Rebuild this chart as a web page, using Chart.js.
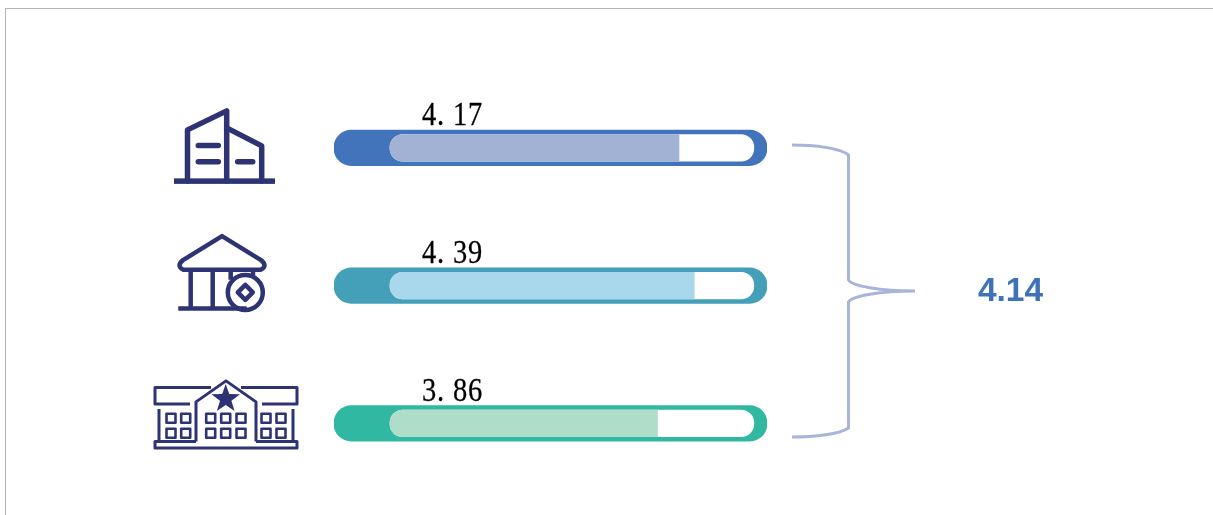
<!DOCTYPE html>
<html>
<head>
<meta charset="utf-8">
<style>
  html, body { margin: 0; height: 100%; background: #fff; overflow: hidden; }
  #frame { position: absolute; left: 5px; top: 8px; right: 0; bottom: 0; border-top: 1px solid #b4b4b4; border-left: 1px solid #b4b4b4; }
  #chart { position: absolute; left: 0; top: 0; }
</style>
</head>
<body>
<div id="frame"></div>
<canvas id="chart" width="1213" height="515"></canvas>
<script src="https://cdn.jsdelivr.net/npm/chart.js@4"></script>
<script>
// Datos
const categories = ["office", "bank", "school"];
const scores = [4.17, 4.39, 3.86];
const overallScore = 4.14;
const slotMax = 5.25;
const axisMin = -0.808;
const axisMax = 5.44;

// Colores por fila
const trackColors = ["#4174bb", "#449fb8", "#30b8a3"];
const fillColors = ["#a1b2d5", "#a9d7ec", "#aeddca"];
const iconColor = "#2e3374";

// Iconos en coordenadas locales, relativos al centro de cada fila
const iconPaths = {
  office: [
    "M-37.5,33 V-18 L1.7,-37 V33",
    "M1.7,-20 L36.7,-2 V33",
    "M-26.7,-2.5 H-6.7 M-26.7,13.8 H-6.7 M12.7,13.8 H27.7"
  ],
  bank: [
    "M-3,-49.5 L-42,-25.5 Q-49,-20 -42,-16 H36 Q43,-20 36,-25.5 Z",
    "M-34.3,-16 V22.8 M-12.3,-16 V22.8 M5.7,-16 V-6 M28,-16 V-10",
    "M-46.7,22.8 H21.7",
    "M37.8,6.8 A17.5,17.5 0 1 1 2.8,6.8 A17.5,17.5 0 1 1 37.8,6.8 Z",
    "M20.3,-0.7 L27.8,6.8 L20.3,14.3 L12.8,6.8 Z"
  ],
  school: [
    "M-35,-19.5 H-70 V-36 H-14 M37,-19.5 H72 V-36 H16",
    "M-29,18 V-21.5 L1,-42.5 L31,-21.5 V18",
    "M-66,-14.5 V18 H-70 V24.5 H72 V18 H68 V-14.5",
    "M-66,18 H-29 M31,18 H68"
  ]
};
const iconLineWidths = { office: 5.5, bank: 4.5, school: 3 };
const schoolWindowX = [-54, -39.3, -14.3, 0.7, 16, 41, 56];
const schoolWindowY = [-5.2, 9.8];

function drawStar(ctx, cx, cy, r) {
  ctx.beginPath();
  for (let i = 0; i < 10; i++) {
    const rad = i % 2 === 0 ? r : r * 0.4;
    const a = -Math.PI / 2 + i * Math.PI / 5;
    ctx.lineTo(cx + rad * Math.cos(a), cy + rad * Math.sin(a));
  }
  ctx.closePath();
  ctx.fill();
}

function drawIcon(ctx, name, cx, cy) {
  ctx.save();
  ctx.translate(cx, cy);
  ctx.strokeStyle = iconColor;
  ctx.fillStyle = iconColor;
  ctx.lineJoin = "round";
  ctx.lineCap = name === "office" ? "round" : "butt";
  ctx.lineWidth = iconLineWidths[name];
  iconPaths[name].forEach(d => ctx.stroke(new Path2D(d)));
  if (name === "office") {
    // La base del edificio va con extremos rectos
    ctx.fillRect(-51, 30.5, 101, 5.5);
  }
  if (name === "school") {
    ctx.lineWidth = 2.6;
    schoolWindowX.forEach(x => {
      schoolWindowY.forEach(y => ctx.strokeRect(x - 4.5, y - 4.5, 9, 9));
    });
    drawStar(ctx, 0.7, -24.5, 15);
  }
  ctx.restore();
}

// Iconos, etiquetas de valor, llave y valor global
const decorations = {
  id: "decorations",
  afterDatasetsDraw(chart) {
    const { ctx, scales } = chart;
    const zeroX = scales.x.getPixelForValue(0);

    categories.forEach((name, i) => {
      const rowY = scales.y.getPixelForValue(i);
      drawIcon(ctx, name, 225, rowY);

      ctx.save();
      ctx.translate(zeroX + 32, rowY - 22.5);
      ctx.scale(0.85, 1);
      ctx.font = '33.5px "Liberation Serif"';
      ctx.letterSpacing = "1px";
      ctx.fillStyle = "#000";
      ctx.strokeStyle = "#000";
      ctx.lineWidth = 0.3;
      ctx.textBaseline = "alphabetic";
      const text = scores[i].toFixed(2).replace(".", ". ");
      ctx.fillText(text, 0, 0);
      ctx.strokeText(text, 0, 0);
      ctx.restore();
    });

    ctx.save();
    ctx.strokeStyle = "#a7b5d9";
    ctx.lineWidth = 3;
    ctx.stroke(new Path2D(
      "M792,145 C815,145 840,148 848.5,155 V280 C852,286 880,291 915,291" +
      " C880,291 852,296 848.5,302 V428 C840,434 815,437 792,437"
    ));
    ctx.font = 'bold 33.5px "Liberation Sans"';
    ctx.fillStyle = "#3f73b9";
    ctx.textAlign = "center";
    ctx.textBaseline = "alphabetic";
    ctx.fillText(overallScore.toFixed(2), 1010.5, 301);
    ctx.restore();
  }
};

new Chart(document.getElementById("chart"), {
  type: "bar",
  data: {
    labels: categories,
    datasets: [
      {
        // Tramo coloreado de la barra
        data: categories.map(() => [axisMin, axisMax]),
        backgroundColor: trackColors,
        barThickness: 35.5,
        borderRadius: 17.5,
        borderSkipped: false,
        order: 3
      },
      {
        // Hueco blanco
        data: categories.map(() => [0, slotMax]),
        backgroundColor: "#ffffff",
        barThickness: 26.5,
        borderRadius: 13,
        borderSkipped: false,
        order: 2
      },
      {
        // Relleno con el valor de cada fila
        data: scores,
        backgroundColor: fillColors,
        barThickness: 26.5,
        borderRadius: { topLeft: 13, bottomLeft: 13, topRight: 0, bottomRight: 0 },
        borderSkipped: false,
        order: 1
      }
    ]
  },
  options: {
    indexAxis: "y",
    responsive: false,
    animation: false,
    layout: { padding: { left: 334, right: 446, top: 79, bottom: 22.75 } },
    datasets: { bar: { grouped: false } },
    scales: {
      x: { display: false, min: axisMin, max: axisMax },
      y: { display: false }
    },
    plugins: { legend: { display: false }, tooltip: { enabled: false } }
  },
  plugins: [decorations]
});
</script>
</body>
</html>
